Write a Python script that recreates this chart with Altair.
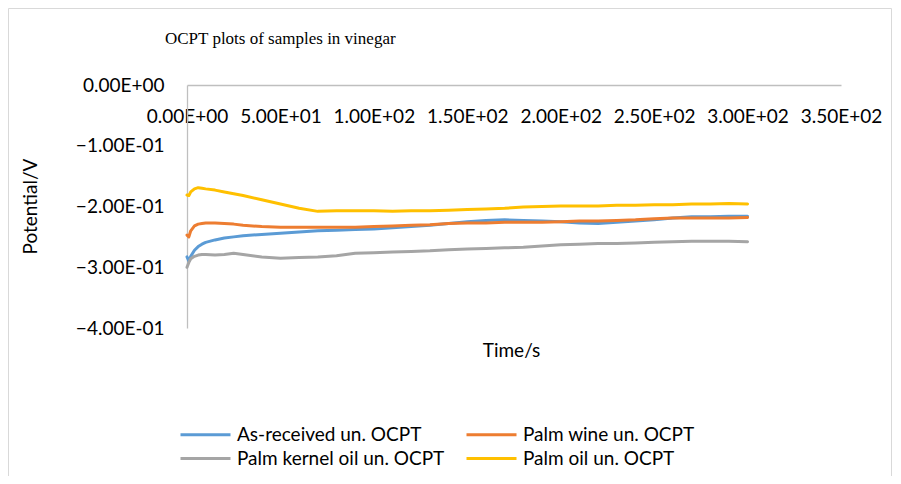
import altair as alt
import pandas as pd

title_text = "OCPT plots of samples in vinegar"
x_title = "Time/s"
y_title = "Potential/V"

# legend is filled column by column: col 1 = first two, col 2 = last two
series_names = [
    "As-received un. OCPT",
    "Palm kernel oil un. OCPT",
    "Palm wine un. OCPT",
    "Palm oil un. OCPT",
]
series_colors = ["#5B9BD5", "#A5A5A5", "#ED7D31", "#FFC000"]

x_ticks = [0, 50, 100, 150, 200, 250, 300, 350]
y_ticks = [0, -0.1, -0.2, -0.3, -0.4]

time_s = [0, 1, 2, 4, 6, 8, 10, 15, 20, 25, 30, 40, 50, 60, 70, 80, 90, 100,
          110, 120, 130, 140, 150, 160, 170, 180, 190, 200, 210, 220, 230,
          240, 250, 260, 270, 280, 290, 300]

as_received = [-0.283, -0.290, -0.282, -0.272, -0.266, -0.262, -0.259, -0.255,
               -0.252, -0.250, -0.248, -0.246, -0.244, -0.242, -0.240, -0.239,
               -0.238, -0.237, -0.235, -0.233, -0.231, -0.228, -0.225, -0.223,
               -0.222, -0.223, -0.224, -0.225, -0.227, -0.228, -0.226, -0.224,
               -0.222, -0.219, -0.217, -0.217, -0.216, -0.216]

palm_kernel_oil = [-0.300, -0.292, -0.286, -0.282, -0.280, -0.279, -0.279, -0.280,
                   -0.279, -0.277, -0.279, -0.283, -0.285, -0.284, -0.283, -0.281,
                   -0.277, -0.276, -0.275, -0.274, -0.273, -0.271, -0.270, -0.269,
                   -0.268, -0.267, -0.265, -0.263, -0.262, -0.261, -0.261, -0.260,
                   -0.259, -0.258, -0.257, -0.257, -0.257, -0.258]

palm_wine = [-0.247, -0.250, -0.240, -0.232, -0.229, -0.228, -0.227, -0.227,
             -0.228, -0.229, -0.231, -0.233, -0.234, -0.234, -0.234, -0.234,
             -0.234, -0.233, -0.232, -0.231, -0.230, -0.228, -0.227, -0.227,
             -0.226, -0.226, -0.226, -0.225, -0.224, -0.224, -0.223, -0.222,
             -0.220, -0.219, -0.219, -0.219, -0.219, -0.218]

palm_oil = [-0.181, -0.182, -0.176, -0.171, -0.169, -0.170, -0.171, -0.173,
            -0.176, -0.179, -0.182, -0.189, -0.196, -0.203, -0.208, -0.207,
            -0.207, -0.207, -0.208, -0.207, -0.207, -0.206, -0.205, -0.204,
            -0.203, -0.201, -0.200, -0.199, -0.199, -0.199, -0.198, -0.198,
            -0.197, -0.197, -0.196, -0.196, -0.195, -0.196]

all_series = [as_received, palm_kernel_oil, palm_wine, palm_oil]

rows = []
for name, vals in zip(series_names, all_series):
    for t, v in zip(time_s, vals):
        rows.append({"Time": t, "Potential": v, "Series": name})
df = pd.DataFrame(rows)

W, H = 654, 243
FONT = "Lato"
sci_expr = "replace(replace(upper(format(datum.value, '.2e')), 'E+', 'E+0'), 'E-', 'E-0')"

lines = alt.Chart(df).mark_line(strokeWidth=3, strokeCap="round", strokeJoin="round").encode(
    x=alt.X(
        "Time:Q",
        scale=alt.Scale(domain=[0, 350], nice=False, zero=False),
        axis=alt.Axis(
            orient="bottom", offset=-H, values=x_ticks, labelExpr=sci_expr,
            ticks=False, grid=False, domainColor="#BFBFBF", domainWidth=1.3,
            labelFont=FONT, labelFontSize=19, labelColor="#000000",
            labelPadding=22, labelFlush=False, labelOverlap=False,
            title=x_title, titleFont=FONT, titleFontSize=19, titleFontWeight="normal",
            titleColor="#000000", titleX=W / 2 - 3, titleY=265,
            titleAlign="center", titleBaseline="middle",
        ),
    ),
    y=alt.Y(
        "Potential:Q",
        scale=alt.Scale(domain=[-0.4, 0], nice=False, zero=False),
        axis=alt.Axis(
            values=y_ticks, labelExpr=sci_expr,
            ticks=False, grid=False, domainColor="#BFBFBF", domainWidth=1.3,
            labelFont=FONT, labelFontSize=19, labelColor="#000000",
            labelPadding=23, labelFlush=False, labelOverlap=False,
            title=y_title, titleFont=FONT, titleFontSize=19, titleFontWeight="normal",
            titleColor="#000000", titleX=-157, titleY=121,
            titleAlign="center", titleBaseline="middle", titleAngle=270,
        ),
    ),
    color=alt.Color(
        "Series:N",
        scale=alt.Scale(domain=series_names, range=series_colors),
        legend=alt.Legend(
            orient="none", legendX=9, legendY=340, columns=2, title=None,
            symbolType="M-5,0L5,0", symbolSize=100, symbolStrokeWidth=3,
            labelFont=FONT, labelFontSize=19, labelColor="#000000", labelLimit=400,
            labelOffset=22, columnPadding=15, rowPadding=4, padding=0,
        ),
    ),
)

border = alt.Chart(alt.Data(values=[{}])).mark_rect(
    fill=None, stroke="#D9D9D9", strokeWidth=1
).encode(
    x=alt.value(-178.5), x2=alt.value(W + 52 - 1.5), y=alt.value(-76.5), y2=alt.value(H + 160)
)

title_mark = alt.Chart(alt.Data(values=[{"t": title_text}])).mark_text(
    font="Liberation Serif", fontSize=17, color="#000000", align="left", baseline="alphabetic"
).encode(
    text="t:N", x=alt.value(-22), y=alt.value(-41)
)

chart = alt.layer(border, title_mark, lines).properties(
    width=W,
    height=H,
    autosize=alt.AutoSizeParams(type="none"),
    padding={"left": 179, "top": 77, "right": 52, "bottom": 148},
).configure_view(strokeWidth=0)

chart.save("out.html", embed_options={"renderer": "svg", "actions": False})
